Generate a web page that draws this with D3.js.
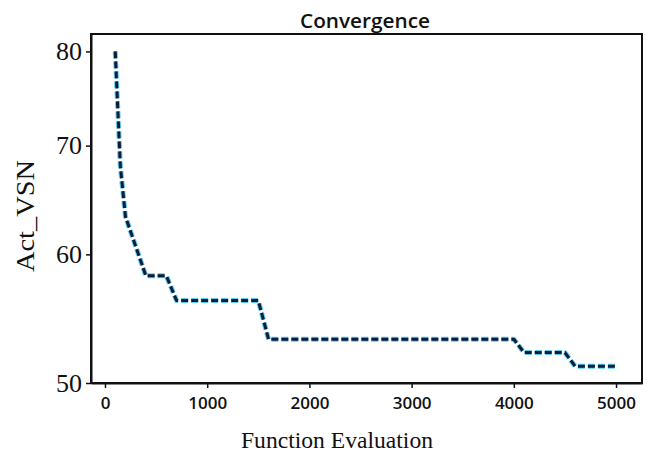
<!DOCTYPE html>
<html>
<head>
<meta charset="utf-8">
<script src="https://cdn.jsdelivr.net/npm/d3@7"></script>
<style>
  body { margin: 0; background: #fff; }
  svg { display: block; }
</style>
</head>
<body>
<svg id="chart"></svg>
<script>
const width = 647, height = 454;
const margin = { top: 34, right: 5, bottom: 71, left: 91 };
const plotWidth = width - margin.left - margin.right;
const plotHeight = height - margin.top - margin.bottom;

// Convergence curve
const evaluations = [100, 150, 200, 300, 400, 600, 700, 1500, 1600, 4000, 4100, 4500, 4600, 5000];
const actVSN = [80, 68, 63.3, 60.7, 58.2, 58.2, 56.2, 56.2, 53.2, 53.2, 52.2, 52.2, 51.2, 51.2];

const xTicks = [0, 1000, 2000, 3000, 4000, 5000];
const yTicks = [50, 60, 70, 80];

const data = evaluations.map((e, i) => ({ x: e, y: actVSN[i] }));

const svg = d3.select("#chart")
    .attr("width", width)
    .attr("height", height)
    .attr("viewBox", [0, 0, width, height]);

const g = svg.append("g")
    .attr("transform", `translate(${margin.left},${margin.top})`);

// Scales (y is logarithmic, ticks are uneven)
const xScale = d3.scaleLinear().domain([-137, 5254]).range([0, plotWidth]);
const yScale = d3.scaleLog().domain([50, 82]).range([plotHeight, 0]);

// Frame
g.append("rect")
    .attr("x", 0)
    .attr("y", 0)
    .attr("width", plotWidth)
    .attr("height", plotHeight)
    .attr("fill", "none")
    .attr("stroke", "#111")
    .attr("stroke-width", 2);

// x axis
const xAxis = g.append("g")
    .attr("transform", `translate(0,${plotHeight})`)
    .call(d3.axisBottom(xScale).tickValues(xTicks).tickFormat(d3.format("d")).tickSize(5).tickSizeOuter(0).tickPadding(9));
xAxis.select(".domain").attr("stroke", "#111").attr("stroke-width", 2);
xAxis.selectAll(".tick line").attr("stroke", "#111").attr("stroke-width", 1.5);
xAxis.selectAll(".tick text")
    .attr("font-family", "'Open Sans', sans-serif")
    .attr("font-size", 17)
    .attr("font-weight", 600)
    .attr("fill", "#111");

// y axis
const yAxis = g.append("g")
    .call(d3.axisLeft(yScale).tickValues(yTicks).tickFormat(d3.format("d")).tickSize(5).tickSizeOuter(0).tickPadding(4));
yAxis.select(".domain").attr("stroke", "#111").attr("stroke-width", 2);
yAxis.selectAll(".tick line").attr("stroke", "#111").attr("stroke-width", 1.5);
yAxis.selectAll(".tick text")
    .attr("font-family", "'Liberation Serif', 'Times New Roman', serif")
    .attr("font-size", 26)
    .attr("fill", "#111");

// Line: cyan halo under a dark navy dash
const line = d3.line()
    .x(d => xScale(d.x))
    .y(d => yScale(d.y));

g.append("path")
    .datum(data)
    .attr("d", line)
    .attr("fill", "none")
    .attr("stroke", "#5ccbf2")
    .attr("stroke-width", 5)
    .attr("stroke-dasharray", "7,3")
    .attr("stroke-linejoin", "round");

g.append("path")
    .datum(data)
    .attr("d", line)
    .attr("fill", "none")
    .attr("stroke", "#0b1d3d")
    .attr("stroke-width", 3)
    .attr("stroke-dasharray", "7,3")
    .attr("stroke-linejoin", "round");

// Title
svg.append("text")
    .attr("x", 365)
    .attr("y", 28)
    .attr("text-anchor", "middle")
    .attr("font-family", "'Open Sans', sans-serif")
    .attr("font-size", 20)
    .attr("font-weight", 600)
    .attr("fill", "#111")
    .attr("textLength", 130)
    .attr("lengthAdjust", "spacingAndGlyphs")
    .text("Convergence");

// Axis titles
svg.append("text")
    .attr("x", 337)
    .attr("y", 448)
    .attr("text-anchor", "middle")
    .attr("font-family", "'Liberation Serif', 'Times New Roman', serif")
    .attr("font-size", 23)
    .attr("fill", "#111")
    .attr("textLength", 192)
    .attr("lengthAdjust", "spacingAndGlyphs")
    .text("Function Evaluation");

svg.append("text")
    .attr("transform", "translate(34,216) rotate(-90)")
    .attr("text-anchor", "middle")
    .attr("font-family", "'Liberation Serif', 'Times New Roman', serif")
    .attr("font-size", 26)
    .attr("fill", "#111")
    .attr("textLength", 112)
    .attr("lengthAdjust", "spacingAndGlyphs")
    .text("Act_VSN");
</script>
</body>
</html>
